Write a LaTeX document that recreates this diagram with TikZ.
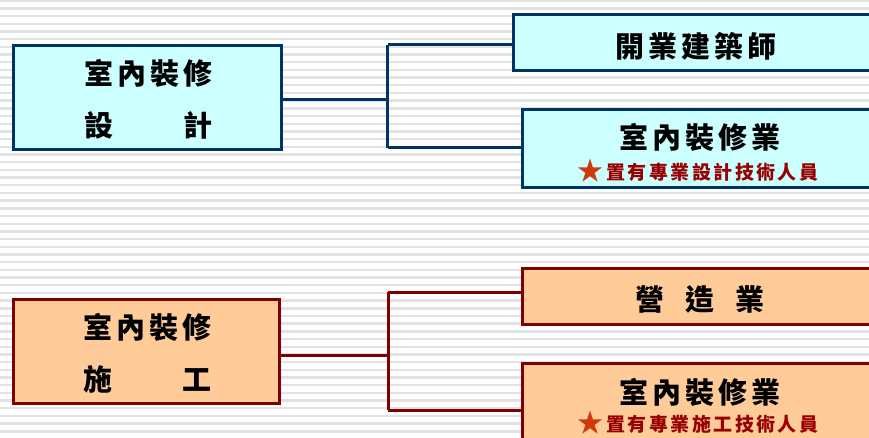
\documentclass[tikz,border=0pt]{standalone}
\usepackage{fontspec}
\newfontfamily\cjk{Noto Sans CJK TC}
\definecolor{navy}{HTML}{003366}
\definecolor{maroon}{HTML}{800000}
\definecolor{cyanfill}{HTML}{CCFFFF}
\definecolor{orangefill}{HTML}{FFCC99}
\definecolor{stripe}{HTML}{E2E2E2}
\definecolor{subred}{HTML}{990000}
\definecolor{starred}{HTML}{D03A0A}
\newcommand{\ks}{\kern4pt}
\newcommand{\kss}{\kern2.5pt}
\newcommand{\bigstar}{\textcolor{starred}{\fontsize{26}{26}\selectfont\raisebox{-1.5pt}{★}}}
\begin{document}
\begin{tikzpicture}[x=1pt,y=-1pt,
  bluebox/.style={draw=navy,line width=3pt,fill=cyanfill,inner sep=0pt},
  orangebox/.style={draw=maroon,line width=3pt,fill=orangefill,inner sep=0pt},
  bigtxt/.style={font=\cjk\bfseries\fontsize{29}{30}\selectfont,inner sep=0pt,text=black},
  subtxt/.style={font=\cjk\bfseries\fontsize{19}{21}\selectfont,inner sep=0pt,text=subred},
  blueline/.style={draw=navy,line width=3pt},
  redline/.style={draw=maroon,line width=3pt}]
\useasboundingbox (0,0) rectangle (869,438);
\begin{scope}
\clip (0,0) rectangle (869,438);
\fill[white] (0,0) rectangle (869,438);
\foreach \k in {0,...,57}
  \fill[stripe] (0,{0.7+\k*7.69-1.2}) rectangle (869,{0.7+\k*7.69+1.2});

% upper group
\node[bluebox,minimum width=268pt,minimum height=104pt] (b1) at (147.5,97.5) {};
\node[bluebox,minimum width=365pt,minimum height=56pt] (b2) at (695.5,42.5) {};
\node[bluebox,minimum width=356pt,minimum height=78pt] (b3) at (700.5,148.5) {};
\coordinate (j1) at (387.5,100);
\coordinate (j1t) at (387.5,45);
\coordinate (j1b) at (387.5,148);
\draw[blueline,line cap=rect] (b1.east |- j1) -- (j1);
\draw[blueline] (j1t) -- (j1b);
\draw[blueline] (j1t) -- (b2.west |- j1t);
\draw[blueline] (j1b) -- (b3.west |- j1b);

\node[bigtxt] (t1a) at (148.5,73) {室\ks 內\ks 裝\ks 修};
\node[bigtxt] (t1b) at (148.5,125) {設\kern71pt 計};
\node[bigtxt] (t2) at (696,46) {開\ks 業\ks 建\ks 築\ks 師};
\node[bigtxt] (t3a) at (700,137) {室\ks 內\ks 裝\ks 修\ks 業};
\node[subtxt] (t3b) at (698,171) {\bigstar\kss 置\kss 有\kss 專\kss 業\kss 設\kss 計\kss 技\kss 術\kss 人\kss 員};

% lower group
\node[orangebox,minimum width=266pt,minimum height=104pt] (b4) at (146.5,351.5) {};
\node[orangebox,minimum width=356pt,minimum height=56pt] (b5) at (700.5,296.5) {};
\node[orangebox,minimum width=356pt,minimum height=86pt] (b6) at (700.5,406.5) {};
\coordinate (j2) at (388,355);
\coordinate (j2t) at (388,292);
\coordinate (j2b) at (388,410);
\draw[redline,line cap=rect] (b4.east |- j2) -- (j2);
\draw[redline] (j2t) -- (j2b);
\draw[redline] (j2t) -- (b5.west |- j2t);
\draw[redline] (j2b) -- (b6.west |- j2b);

\node[bigtxt] (t4a) at (147.5,327) {室\ks 內\ks 裝\ks 修};
\node[bigtxt] (t4b) at (147.5,379) {施\kern71pt 工};
\node[bigtxt] (t5) at (700,299) {營\kern21pt 造\kern21pt 業};
\node[bigtxt] (t6a) at (700,392) {室\ks 內\ks 裝\ks 修\ks 業};
\node[subtxt] (t6b) at (698,423) {\bigstar\kss 置\kss 有\kss 專\kss 業\kss 施\kss 工\kss 技\kss 術\kss 人\kss 員};
\end{scope}
\end{tikzpicture}
\end{document}
